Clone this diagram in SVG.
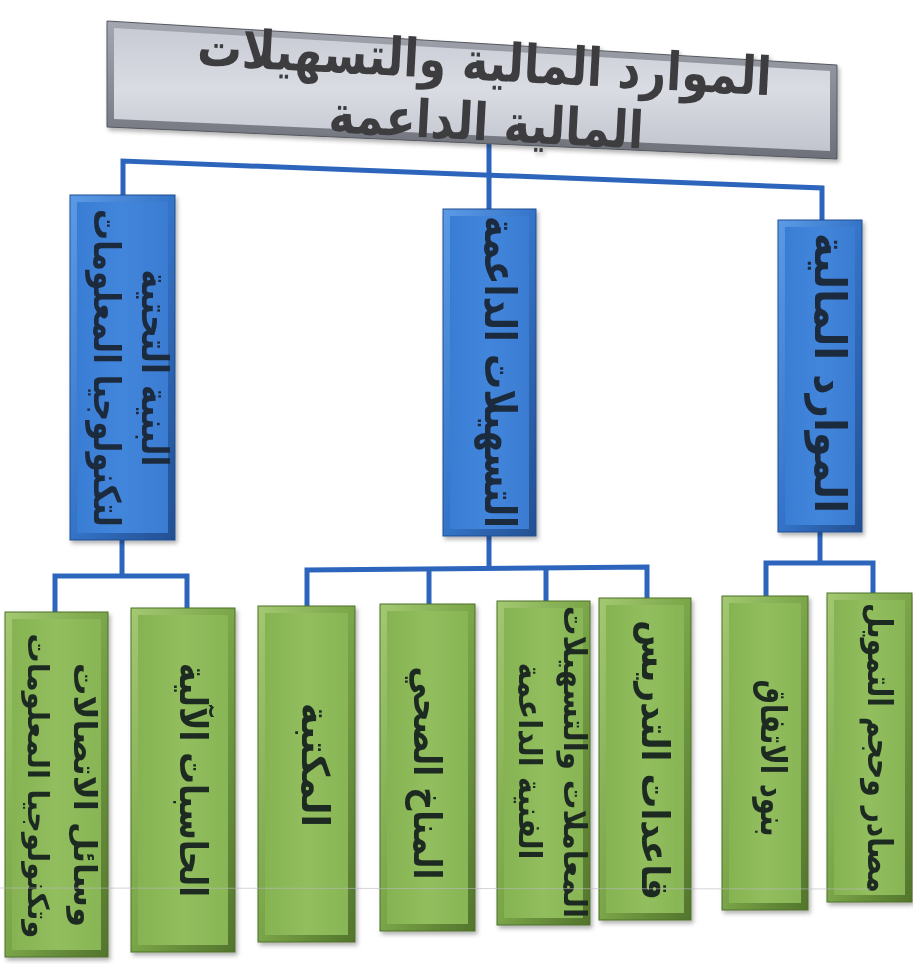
<svg xmlns="http://www.w3.org/2000/svg" width="913" height="964" viewBox="0 0 913 964">
<style>
.conn{fill:none;stroke:#2d65bc;stroke-width:5;stroke-linejoin:miter}
.bo{fill:url(#gBlueO);stroke:#1f4e93;stroke-width:1}
.bi{fill:url(#gBlueI)}
.go{fill:url(#gGreenO);stroke:#4f7029;stroke-width:1}
.gi{fill:url(#gGreenI)}
.tt{font-family:"DejaVu Sans",sans-serif;font-weight:bold;fill:#3d3d40;text-anchor:middle;direction:rtl}
.bt{font-family:"DejaVu Sans",sans-serif;font-weight:bold;fill:#1f2a3c;text-anchor:middle;direction:rtl}
.gt{font-family:"DejaVu Sans",sans-serif;font-weight:bold;fill:#1d2b22;text-anchor:middle;direction:rtl}
</style>
<defs>
<linearGradient id="gBlueO" x1="0" y1="0" x2="1" y2="1">
<stop offset="0" stop-color="#5d9be6"/><stop offset="0.5" stop-color="#3474c8"/><stop offset="1" stop-color="#234f91"/>
</linearGradient>
<linearGradient id="gBlueI" x1="0" y1="0" x2="1" y2="0">
<stop offset="0" stop-color="#397dd4"/><stop offset="0.5" stop-color="#4286dc"/><stop offset="1" stop-color="#3a7cd2"/>
</linearGradient>
<linearGradient id="gGreenO" x1="0" y1="0" x2="1" y2="1">
<stop offset="0" stop-color="#a3c972"/><stop offset="0.5" stop-color="#7aa548"/><stop offset="1" stop-color="#52742c"/>
</linearGradient>
<linearGradient id="gGreenI" x1="0" y1="0" x2="1" y2="0">
<stop offset="0" stop-color="#86b352"/><stop offset="0.5" stop-color="#92be5e"/><stop offset="1" stop-color="#88b555"/>
</linearGradient>
<linearGradient id="gGray" x1="0" y1="0" x2="0" y2="1">
<stop offset="0" stop-color="#c9cbd4"/><stop offset="0.5" stop-color="#dadce4"/><stop offset="1" stop-color="#c3c5ce"/>
</linearGradient>
<linearGradient id="gGrayO" x1="0" y1="0" x2="0" y2="1">
<stop offset="0" stop-color="#a4a7b0"/><stop offset="1" stop-color="#6d7079"/>
</linearGradient>
<filter id="sh" x="-10%" y="-10%" width="130%" height="130%">
<feDropShadow dx="2" dy="3" stdDeviation="2" flood-color="#000" flood-opacity="0.3"/>
</filter>
</defs>
<rect width="913" height="964" fill="#ffffff"/>

<g id="connectors">
<path class="conn" d="M489,144 V209"/>
<path class="conn" d="M123,198 V161 L822,188 V222"/>
<path class="conn" d="M122,540 V576"/>
<path class="conn" d="M55,612 V576 H187 V608"/>
<path class="conn" d="M489,536 V569"/>
<path class="conn" d="M307,606 V570 L647,567 V598"/>
<path class="conn" d="M429,569 V604"/>
<path class="conn" d="M546,568 V601"/>
<path class="conn" d="M820,532 V563"/>
<path class="conn" d="M766,596 V563 H873 V593"/>
</g>

<g id="title" filter="url(#sh)">
<polygon points="107,21 837,65 837,159 107,127" fill="url(#gGrayO)" stroke="#55585f" stroke-width="1"/>
<polygon points="114,28 830,71 830,151 114,119" fill="url(#gGray)"/>
<g transform="rotate(3 480 90)">
<text class="tt" x="483" y="80" font-size="53" textLength="575" lengthAdjust="spacingAndGlyphs">الموارد المالية والتسهيلات</text>
<text class="tt" x="488" y="140" font-size="52" textLength="315" lengthAdjust="spacingAndGlyphs">المالية الداعمة</text>
</g>
</g>

<g id="b1" filter="url(#sh)">
<rect class="bo" x="70" y="195" width="105" height="345"/>
<rect class="bi" x="77" y="202" width="91" height="331"/>
<g transform="translate(142,368) rotate(90)"><text class="bt" x="0" y="0" font-size="37" textLength="197" lengthAdjust="spacingAndGlyphs">البنية التحتية</text></g>
<g transform="translate(94,368) rotate(90)"><text class="bt" x="0" y="0" font-size="37" textLength="318" lengthAdjust="spacingAndGlyphs">لتكنولوجيا المعلومات</text></g>
</g>

<g id="b2" filter="url(#sh)">
<rect class="bo" x="443" y="209" width="93" height="327"/>
<rect class="bi" x="450" y="216" width="79" height="313"/>
<g transform="translate(485,372) rotate(90)"><text class="bt" x="0" y="0" font-size="44" textLength="312" lengthAdjust="spacingAndGlyphs">التسهيلات الداعمة</text></g>
</g>

<g id="b3" filter="url(#sh)">
<rect class="bo" x="778" y="220" width="84" height="312"/>
<rect class="bi" x="785" y="227" width="70" height="298"/>
<g transform="translate(815,373) rotate(90)"><text class="bt" x="0" y="0" font-size="44" textLength="280" lengthAdjust="spacingAndGlyphs">الموارد المالية</text></g>
</g>

<g id="g1" filter="url(#sh)">
<rect class="go" x="5" y="612" width="103" height="345"/>
<rect class="gi" x="12" y="619" width="89" height="331"/>
<g transform="translate(74,795) rotate(90)"><text class="gt" x="0" y="0" font-size="32" textLength="264" lengthAdjust="spacingAndGlyphs">وسائل الاتصالات</text></g>
<g transform="translate(28,786) rotate(90)"><text class="gt" x="0" y="0" font-size="29" textLength="305" lengthAdjust="spacingAndGlyphs">وتكنولوجيا المعلومات</text></g>
</g>

<g id="g2" filter="url(#sh)">
<rect class="go" x="131" y="608" width="104" height="344"/>
<rect class="gi" x="138" y="615" width="90" height="330"/>
<g transform="translate(180,780) rotate(90)"><text class="gt" x="0" y="0" font-size="38" textLength="234" lengthAdjust="spacingAndGlyphs">الحاسبات الآلية</text></g>
</g>

<g id="g3" filter="url(#sh)">
<rect class="go" x="258" y="606" width="97" height="336"/>
<rect class="gi" x="265" y="613" width="83" height="322"/>
<g transform="translate(302,765) rotate(90)"><text class="gt" x="0" y="0" font-size="38" textLength="124" lengthAdjust="spacingAndGlyphs">المكتبة</text></g>
</g>

<g id="g4" filter="url(#sh)">
<rect class="go" x="380" y="604" width="95" height="327"/>
<rect class="gi" x="387" y="611" width="81" height="313"/>
<g transform="translate(414,773) rotate(90)"><text class="gt" x="0" y="0" font-size="38" textLength="213" lengthAdjust="spacingAndGlyphs">المناخ الصحي</text></g>
</g>

<g id="g5" filter="url(#sh)">
<rect class="go" x="497" y="601" width="93" height="324"/>
<rect class="gi" x="504" y="608" width="79" height="310"/>
<g transform="translate(564,762) rotate(90)"><text class="gt" x="0" y="0" font-size="31" textLength="312" lengthAdjust="spacingAndGlyphs">المعاملات والتسهيلات</text></g>
<g transform="translate(519,761) rotate(90)"><text class="gt" x="0" y="0" font-size="32" textLength="197" lengthAdjust="spacingAndGlyphs">الفنية الداعمة</text></g>
</g>

<g id="g6" filter="url(#sh)">
<rect class="go" x="599" y="598" width="92" height="322"/>
<rect class="gi" x="606" y="605" width="78" height="308"/>
<g transform="translate(642,760) rotate(90)"><text class="gt" x="0" y="0" font-size="38" textLength="280" lengthAdjust="spacingAndGlyphs">قاعدات التدريس</text></g>
</g>

<g id="g7" filter="url(#sh)">
<rect class="go" x="722" y="596" width="86" height="314"/>
<rect class="gi" x="729" y="603" width="72" height="300"/>
<g transform="translate(761,758) rotate(90)"><text class="gt" x="0" y="0" font-size="36" textLength="157" lengthAdjust="spacingAndGlyphs">بنود الاتفاق</text></g>
</g>

<g id="g8" filter="url(#sh)">
<rect class="go" x="827" y="593" width="85" height="309"/>
<rect class="gi" x="834" y="600" width="71" height="295"/>
<g transform="translate(868,748) rotate(90)"><text class="gt" x="0" y="0" font-size="34" textLength="290" lengthAdjust="spacingAndGlyphs">مصادر وحجم التمويل</text></g>
</g>

<line x1="0" y1="888" x2="870" y2="889" stroke="#b9b9c0" stroke-width="1" opacity="0.6"/>
</svg>
